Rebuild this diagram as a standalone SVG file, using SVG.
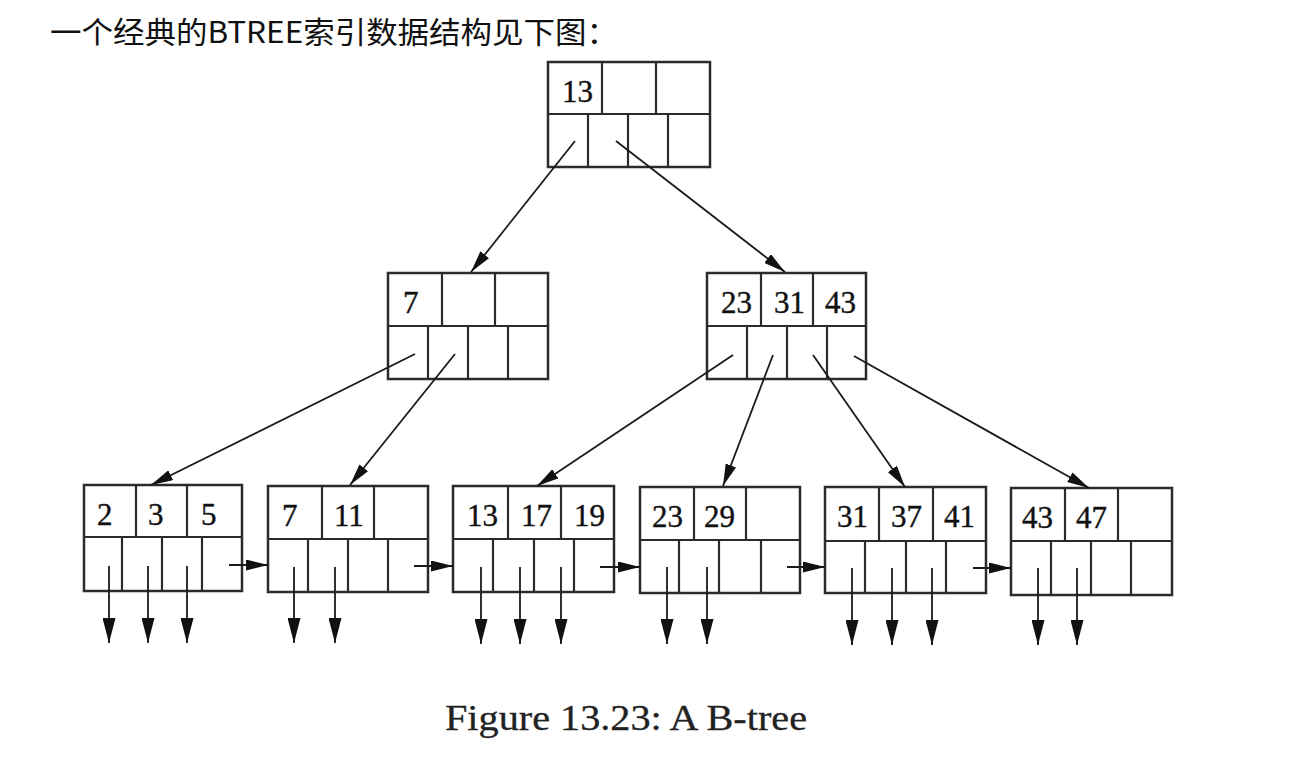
<svg xmlns="http://www.w3.org/2000/svg" width="1296" height="764" viewBox="0 0 1296 764">
<style>
.box{fill:#fff;stroke:#2b2b2b;stroke-width:2.5}
.div{stroke:#2b2b2b;stroke-width:2.2}
.num{font-family:"Liberation Serif","Times New Roman",serif;font-size:31px;fill:#111;stroke:#111;stroke-width:0.4}
.con{stroke:#1a1a1a;stroke-width:1.8;fill:none}
.title{font-family:"Noto Sans CJK SC","Noto Sans",sans-serif;font-size:30px;fill:#111}
.cap{font-family:"Liberation Serif","Times New Roman",serif;font-size:35px;fill:#222;stroke:#222;stroke-width:0.3}
</style>
<defs>
<marker id="ah" markerUnits="userSpaceOnUse" markerWidth="22" markerHeight="11" refX="22" refY="5.5" orient="auto"><path d="M0,0 L22,5.5 L0,11 z" fill="#111"/></marker>
<marker id="ahd" markerUnits="userSpaceOnUse" markerWidth="25" markerHeight="13" refX="25" refY="6.5" orient="auto"><path d="M0,0 L25,6.5 L0,13 z" fill="#111"/></marker>
</defs>
<rect width="1296" height="764" fill="#fff"/>
<text class="title" x="50" y="43" textLength="568" lengthAdjust="spacingAndGlyphs">一个经典的BTREE索引数据结构见下图：</text>

<g id="root" transform="translate(548,62)">
<rect class="box" x="0" y="0" width="162" height="105"/>
<line class="div" x1="0" y1="52" x2="162" y2="52"/>
<line class="div" x1="54" y1="0" x2="54" y2="52"/><line class="div" x1="108" y1="0" x2="108" y2="52"/>
<line class="div" x1="40" y1="52" x2="40" y2="105"/><line class="div" x1="80" y1="52" x2="80" y2="105"/><line class="div" x1="120" y1="52" x2="120" y2="105"/>
<text class="num" x="14" y="40">13</text>
</g>

<g id="mid-left" transform="translate(388,273)">
<rect class="box" x="0" y="0" width="160" height="106"/>
<line class="div" x1="0" y1="53" x2="160" y2="53"/>
<line class="div" x1="54" y1="0" x2="54" y2="53"/><line class="div" x1="107" y1="0" x2="107" y2="53"/>
<line class="div" x1="40" y1="53" x2="40" y2="106"/><line class="div" x1="80" y1="53" x2="80" y2="106"/><line class="div" x1="120" y1="53" x2="120" y2="106"/>
<text class="num" x="15" y="40">7</text>
</g>

<g id="mid-right" transform="translate(707,273)">
<rect class="box" x="0" y="0" width="159" height="106"/>
<line class="div" x1="0" y1="53" x2="159" y2="53"/>
<line class="div" x1="54" y1="0" x2="54" y2="53"/><line class="div" x1="106" y1="0" x2="106" y2="53"/>
<line class="div" x1="40" y1="53" x2="40" y2="106"/><line class="div" x1="80" y1="53" x2="80" y2="106"/><line class="div" x1="120" y1="53" x2="120" y2="106"/>
<text class="num" x="14" y="40">23</text><text class="num" x="67" y="40">31</text><text class="num" x="118" y="40">43</text>
</g>

<g id="leaf1" transform="translate(84,485)">
<rect class="box" x="0" y="0" width="158" height="106"/>
<line class="div" x1="0" y1="52" x2="158" y2="52"/>
<line class="div" x1="52" y1="0" x2="52" y2="52"/><line class="div" x1="103" y1="0" x2="103" y2="52"/>
<line class="div" x1="38" y1="52" x2="38" y2="106"/><line class="div" x1="78" y1="52" x2="78" y2="106"/><line class="div" x1="118" y1="52" x2="118" y2="106"/>
<text class="num" x="13" y="40">2</text><text class="num" x="64" y="40">3</text><text class="num" x="117" y="40">5</text>
</g>

<g id="leaf2" transform="translate(268,486)">
<rect class="box" x="0" y="0" width="160" height="106"/>
<line class="div" x1="0" y1="53" x2="160" y2="53"/>
<line class="div" x1="54" y1="0" x2="54" y2="53"/><line class="div" x1="106" y1="0" x2="106" y2="53"/>
<line class="div" x1="40" y1="53" x2="40" y2="106"/><line class="div" x1="80" y1="53" x2="80" y2="106"/><line class="div" x1="120" y1="53" x2="120" y2="106"/>
<text class="num" x="14" y="40">7</text><text class="num" x="66" y="40">11</text>
</g>

<g id="leaf3" transform="translate(453,486)">
<rect class="box" x="0" y="0" width="161" height="106"/>
<line class="div" x1="0" y1="53" x2="161" y2="53"/>
<line class="div" x1="55" y1="0" x2="55" y2="53"/><line class="div" x1="108" y1="0" x2="108" y2="53"/>
<line class="div" x1="40" y1="53" x2="40" y2="106"/><line class="div" x1="81" y1="53" x2="81" y2="106"/><line class="div" x1="121" y1="53" x2="121" y2="106"/>
<text class="num" x="14" y="40">13</text><text class="num" x="68" y="40">17</text><text class="num" x="121" y="40">19</text>
</g>

<g id="leaf4" transform="translate(640,487)">
<rect class="box" x="0" y="0" width="160" height="106"/>
<line class="div" x1="0" y1="53" x2="160" y2="53"/>
<line class="div" x1="54" y1="0" x2="54" y2="53"/><line class="div" x1="106" y1="0" x2="106" y2="53"/>
<line class="div" x1="39" y1="53" x2="39" y2="106"/><line class="div" x1="79" y1="53" x2="79" y2="106"/><line class="div" x1="121" y1="53" x2="121" y2="106"/>
<text class="num" x="12" y="40">23</text><text class="num" x="64" y="40">29</text>
</g>

<g id="leaf5" transform="translate(825,487)">
<rect class="box" x="0" y="0" width="161" height="106"/>
<line class="div" x1="0" y1="54" x2="161" y2="54"/>
<line class="div" x1="54" y1="0" x2="54" y2="54"/><line class="div" x1="108" y1="0" x2="108" y2="54"/>
<line class="div" x1="40" y1="54" x2="40" y2="106"/><line class="div" x1="81" y1="54" x2="81" y2="106"/><line class="div" x1="121" y1="54" x2="121" y2="106"/>
<text class="num" x="12" y="40">31</text><text class="num" x="66" y="40">37</text><text class="num" x="119" y="40">41</text>
</g>

<g id="leaf6" transform="translate(1011,488)">
<rect class="box" x="0" y="0" width="161" height="107"/>
<line class="div" x1="0" y1="53" x2="161" y2="53"/>
<line class="div" x1="54" y1="0" x2="54" y2="53"/><line class="div" x1="107" y1="0" x2="107" y2="53"/>
<line class="div" x1="40" y1="53" x2="40" y2="107"/><line class="div" x1="80" y1="53" x2="80" y2="107"/><line class="div" x1="120" y1="53" x2="120" y2="107"/>
<text class="num" x="11" y="40">43</text><text class="num" x="65" y="40">47</text>
</g>

<g id="connectors">
<line class="con" x1="575" y1="141" x2="471" y2="272" marker-end="url(#ah)"/>
<line class="con" x1="616" y1="141" x2="785" y2="272" marker-end="url(#ah)"/>
<line class="con" x1="415" y1="354" x2="151" y2="485" marker-end="url(#ah)"/>
<line class="con" x1="455" y1="354" x2="350" y2="485" marker-end="url(#ah)"/>
<line class="con" x1="733" y1="355" x2="537" y2="486" marker-end="url(#ah)"/>
<line class="con" x1="773" y1="355" x2="723" y2="486" marker-end="url(#ah)"/>
<line class="con" x1="813" y1="355" x2="905" y2="487" marker-end="url(#ah)"/>
<line class="con" x1="854" y1="356" x2="1089" y2="488" marker-end="url(#ah)"/>

<line class="con" x1="229" y1="565" x2="268" y2="565" marker-end="url(#ah)"/>
<line class="con" x1="414" y1="566" x2="453" y2="566" marker-end="url(#ah)"/>
<line class="con" x1="600" y1="567" x2="640" y2="567" marker-end="url(#ah)"/>
<line class="con" x1="787" y1="567" x2="825" y2="567" marker-end="url(#ah)"/>
<line class="con" x1="973" y1="568" x2="1011" y2="568" marker-end="url(#ah)"/>

<line class="con" x1="109" y1="566" x2="109" y2="643" marker-end="url(#ahd)"/>
<line class="con" x1="148" y1="566" x2="148" y2="643" marker-end="url(#ahd)"/>
<line class="con" x1="187" y1="566" x2="187" y2="643" marker-end="url(#ahd)"/>
<line class="con" x1="294" y1="567" x2="294" y2="643" marker-end="url(#ahd)"/>
<line class="con" x1="335" y1="567" x2="335" y2="643" marker-end="url(#ahd)"/>
<line class="con" x1="481" y1="567" x2="481" y2="644" marker-end="url(#ahd)"/>
<line class="con" x1="520" y1="567" x2="520" y2="644" marker-end="url(#ahd)"/>
<line class="con" x1="561" y1="567" x2="561" y2="644" marker-end="url(#ahd)"/>
<line class="con" x1="667" y1="567" x2="667" y2="644" marker-end="url(#ahd)"/>
<line class="con" x1="707" y1="567" x2="707" y2="644" marker-end="url(#ahd)"/>
<line class="con" x1="852" y1="568" x2="852" y2="645" marker-end="url(#ahd)"/>
<line class="con" x1="892" y1="568" x2="892" y2="645" marker-end="url(#ahd)"/>
<line class="con" x1="932" y1="568" x2="932" y2="645" marker-end="url(#ahd)"/>
<line class="con" x1="1038" y1="568" x2="1038" y2="645" marker-end="url(#ahd)"/>
<line class="con" x1="1077" y1="568" x2="1077" y2="645" marker-end="url(#ahd)"/>
</g>

<text class="cap" x="445" y="730" textLength="362" lengthAdjust="spacingAndGlyphs">Figure 13.23: A B-tree</text>
</svg>
